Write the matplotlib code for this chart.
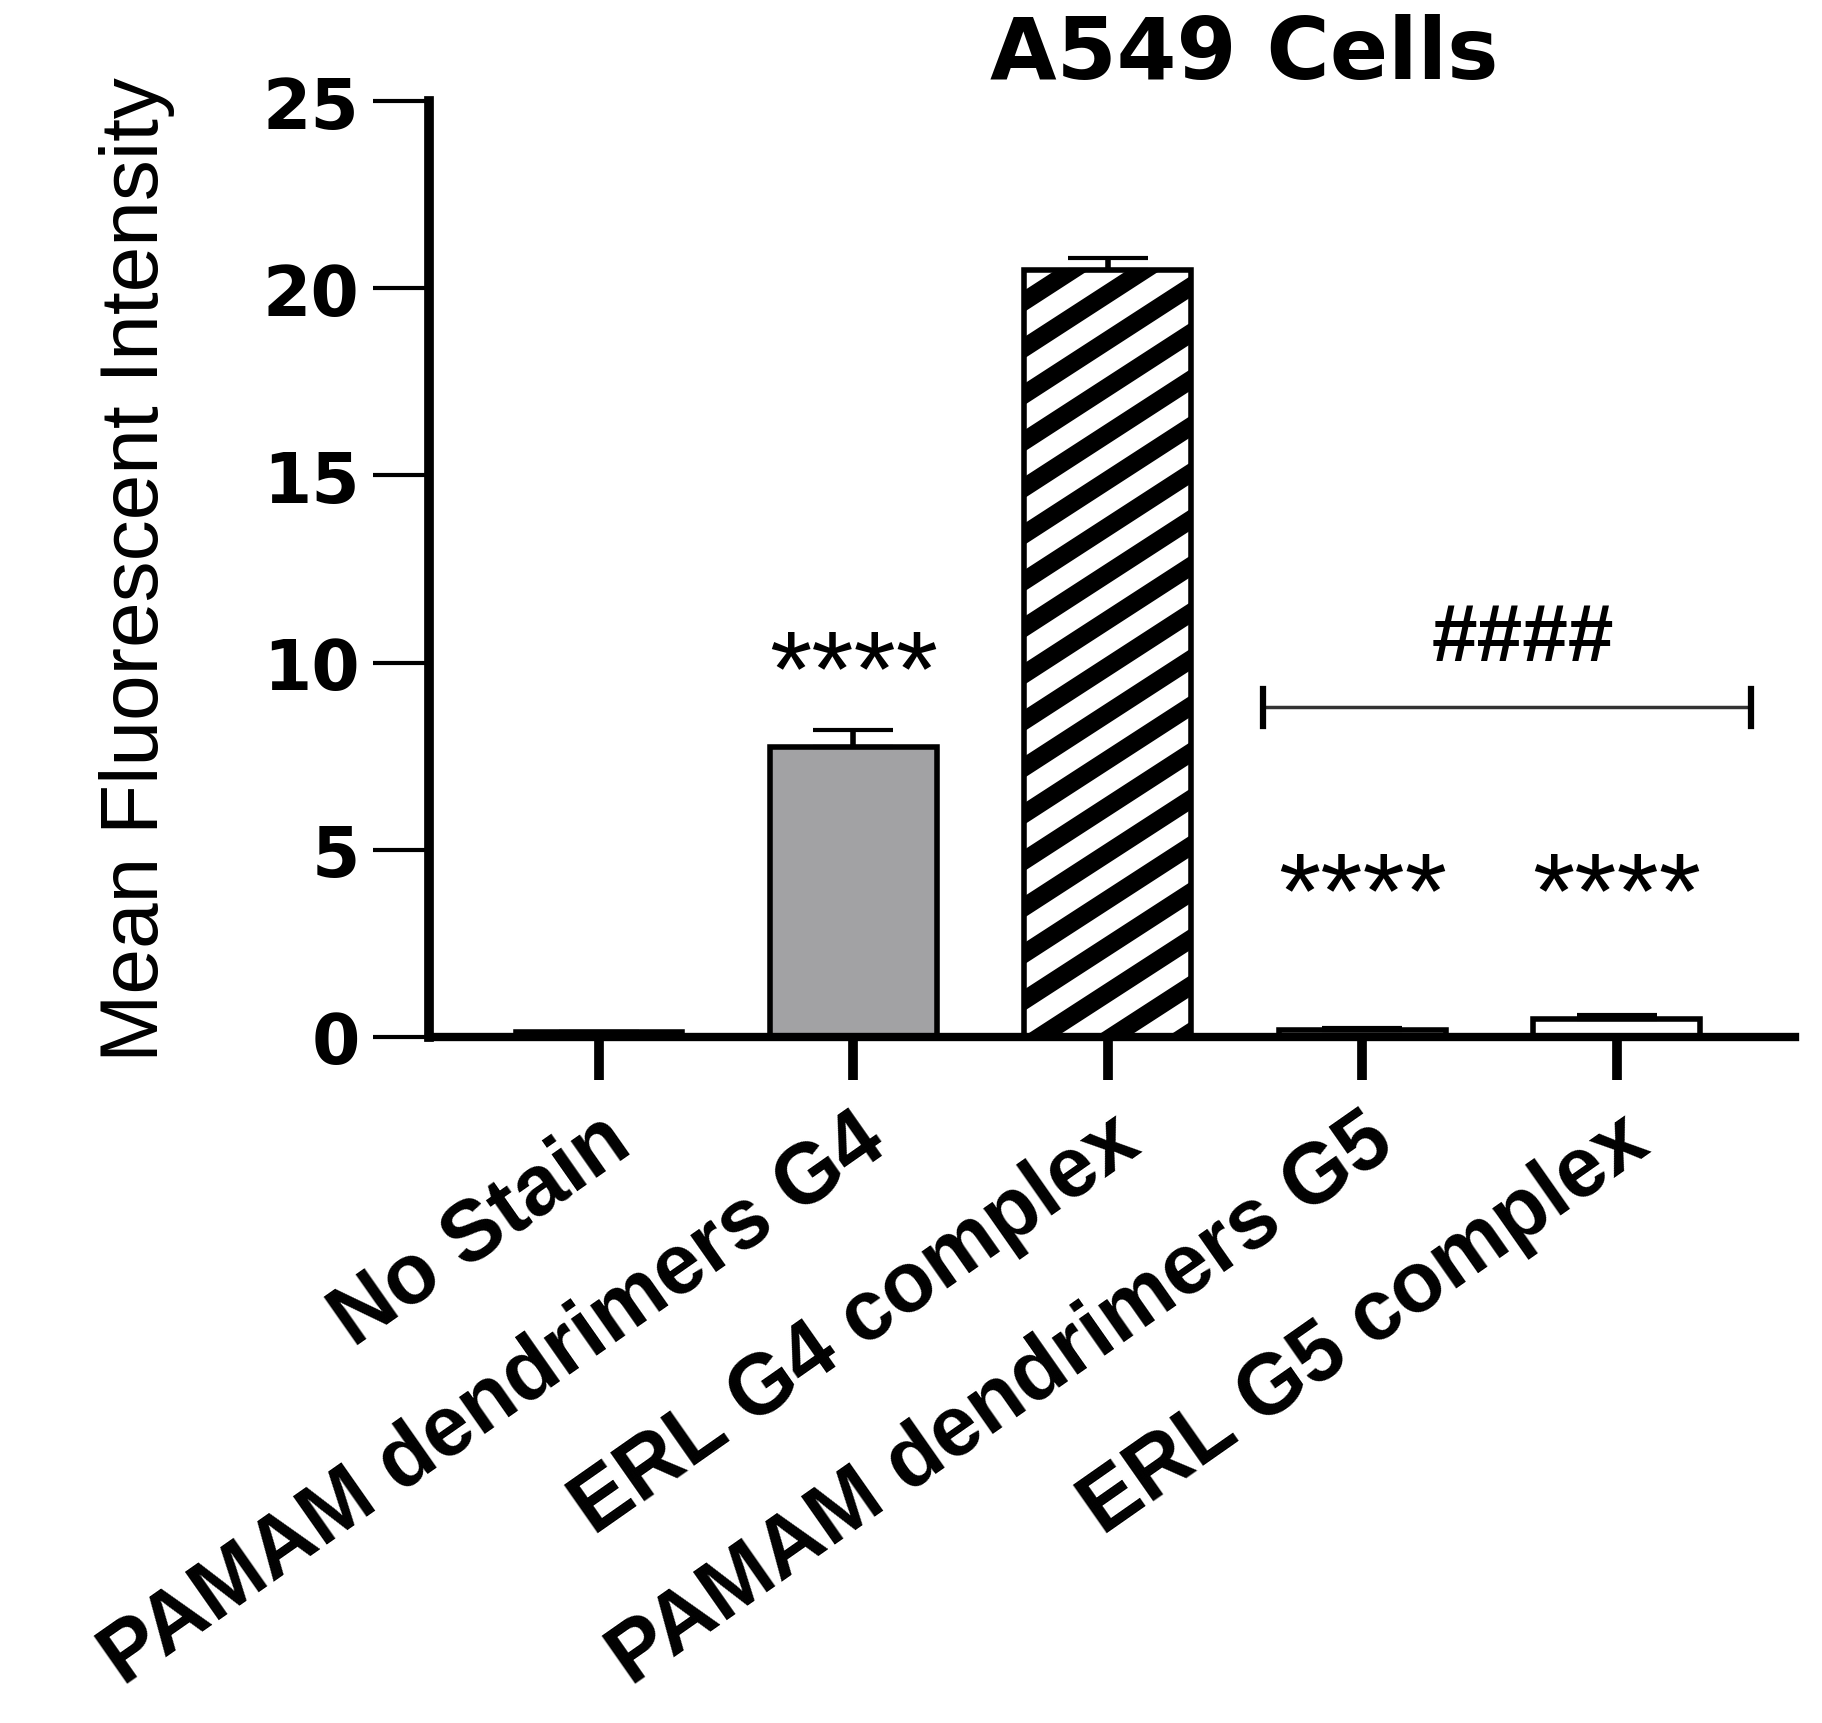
import matplotlib.pyplot as plt
import numpy as np

# Data
categories = ['No Stain', 'PAMAM dendrimers G4', 'ERL G4 complex',
              'PAMAM dendrimers G5', 'ERL G5 complex']
means = [0.12, 7.75, 20.5, 0.18, 0.48]
errors = [0.0, 0.45, 0.3, 0.05, 0.11]
stars = ['', '****', '', '****', '****']
star_y = [0, 8.9, 0, 2.95, 2.95]
bracket_x = [2.61, 4.53]
bracket_y = 8.8
hash_label = '####'

fill_colors = ['white', '#a2a2a4', 'none', 'white', 'white']

fig = plt.figure(figsize=(18.22, 17.24), dpi=100)
ax = fig.add_axes([0.2355, 0.398, 0.7495, 0.5428])

x = np.arange(len(categories))
bars = ax.bar(x, means, width=0.656, color=fill_colors, edgecolor='black',
              linewidth=4, zorder=2)

# diagonal stripes for the ERL G4 bar, clipped to the bar
hb = bars[2]
slope = 4.4
x0 = hb.get_x()
w = hb.get_width()
for b in np.arange(-4, 22, 1.245):
    ln, = ax.plot([x0 - 0.05, x0 + w + 0.05],
                  [b - slope * 0.05, b + slope * (w + 0.05)],
                  color='black', lw=13, solid_capstyle='butt', zorder=1.5)
    ln.set_clip_path(hb)

# upper error bars only
ax.errorbar(x, means, yerr=[np.zeros(len(x)), errors], fmt='none',
            ecolor='black', elinewidth=4, capsize=29, capthick=3, zorder=3)

# significance marks
for xi, s, sy in zip(x, stars, star_y):
    if s:
        ax.text(xi, sy, s, ha='center', va='baseline', fontsize=78,
                family='Liberation Sans')

ax.plot(bracket_x, [bracket_y, bracket_y], color='#333333', lw=2.5)
for bx in bracket_x:
    ax.plot([bx, bx], [bracket_y - 0.5, bracket_y + 0.5], color='black', lw=4.5)
ax.text(3.63, 10.07, hash_label, ha='center', va='baseline', fontsize=59,
        family='Liberation Sans', fontweight='bold')

ax.set_xlim(-0.668, 4.70)
ax.set_ylim(0, 25)
ax.set_yticks([0, 5, 10, 15, 20, 25])

for side in ['top', 'right']:
    ax.spines[side].set_visible(False)
ax.spines['left'].set_linewidth(7)
ax.spines['bottom'].set_linewidth(6)

ax.tick_params(axis='y', length=40, width=3, pad=10, labelsize=50)
ax.tick_params(axis='x', length=31, width=7, pad=14)
for lab in ax.get_yticklabels():
    lab.set_fontfamily('DejaVu Sans')
    lab.set_fontweight('bold')

ax.set_xticks(x)
ax.set_xticklabels(categories, rotation=35, ha='right', va='top',
                   rotation_mode='anchor', fontsize=61,
                   family='Liberation Sans', fontweight='bold')

ax.set_ylabel('Mean Fluorescent Intensity', fontsize=59,
              family='Liberation Sans')
ax.yaxis.set_label_coords(-0.186, 0.5)

fig.text(0.683, 0.954, 'A549 Cells', ha='center', va='baseline',
         fontsize=62, family='DejaVu Sans', fontweight='bold')

fig.savefig('out.png', dpi=100)
